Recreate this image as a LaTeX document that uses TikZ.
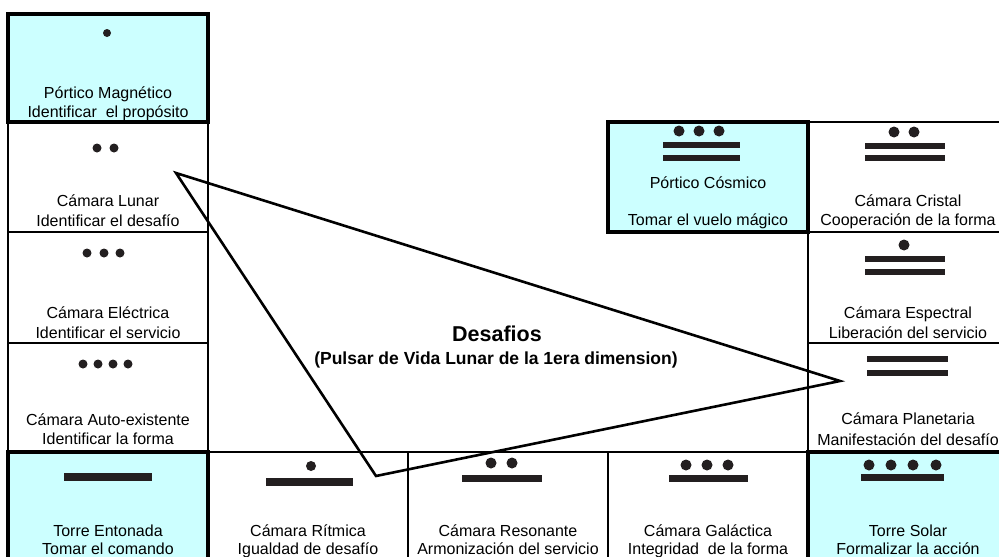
\documentclass[tikz,border=0pt]{standalone}
\usepackage{fontspec}
\setmainfont{Liberation Sans}
\usepackage{tikz}
\usetikzlibrary{calc}
\definecolor{gatecyan}{HTML}{CCFFFF}
\definecolor{ink}{HTML}{231F20}

\begin{document}
\begin{tikzpicture}[x=1pt,y=-1pt,every node/.style={font=\fontsize{16}{19}\selectfont}]
  \tikzstyle{cell}=[draw,line width=2pt,inner sep=0pt,outer sep=0pt,minimum width=200pt];
  \tikzstyle{gate}=[cell,fill=gatecyan,line width=4.5pt];
  \tikzstyle{txt}=[inner sep=0pt,anchor=base];
  \tikzstyle{ttl}=[txt,font=\bfseries\fontsize{21.5}{24}\selectfont];
  \tikzstyle{subttl}=[txt,font=\bfseries\fontsize{17.5}{20}\selectfont];
  \tikzstyle{glyph}=[fill=ink,draw=none];
  \useasboundingbox (0,0) rectangle (999,557);
  % thin cells
  \node[cell,minimum height=110pt] (lunar)      at (108,177)   {};
  \node[cell,minimum height=111pt] (electrica)  at (108,287.5) {};
  \node[cell,minimum height=109pt] (auto)       at (108,397.5) {};
  \node[cell,minimum height=110pt] (ritmica)    at (308,507)   {};
  \node[cell,minimum height=110pt] (resonante)  at (508,507)   {};
  \node[cell,minimum height=110pt] (galactica)  at (708,507)   {};
  \node[cell,minimum height=110pt] (cristal)    at (908,177)   {};
  \node[cell,minimum height=111pt] (espectral)  at (908,287.5) {};
  \node[cell,minimum height=109pt] (planetaria) at (908,397.5) {};
  % portals and towers
  \node[gate,minimum height=108pt] (magnetico)  at (108,68)    {};
  \node[gate,minimum height=110pt] (entonada)   at (108,507)   {};
  \node[gate,minimum height=110pt] (solar)      at (908,507)   {};
  \node[gate,minimum height=110pt] (cosmico)    at (708,177)   {};

  % labels
  \node[txt] (magnetico-a)  at (108,98)  {Pórtico Magnético};
  \node[txt] (magnetico-b)  at (108,117) {Identificar\ \ el propósito};
  \node[txt] (lunar-a)      at (108,206) {Cámara Lunar};
  \node[txt] (lunar-b)      at (108,226) {Identificar el desafío};
  \node[txt] (electrica-a)  at (108,318) {Cámara Eléctrica};
  \node[txt] (electrica-b)  at (108,338) {Identificar el servicio};
  \node[txt] (auto-a)       at (108,425) {Cámara Auto-existente};
  \node[txt] (auto-b)       at (108,444) {Identificar la forma};
  \node[txt] (entonada-a)   at (108,536) {Torre Entonada};
  \node[txt] (entonada-b)   at (108,554) {Tomar el comando};
  \node[txt] (ritmica-a)    at (308,536) {Cámara Rítmica};
  \node[txt] (ritmica-b)    at (308,554) {Igualdad de desafío};
  \node[txt] (resonante-a)  at (508,536) {Cámara Resonante};
  \node[txt] (resonante-b)  at (508,554) {Armonización del servicio};
  \node[txt] (galactica-a)  at (708,536) {Cámara Galáctica};
  \node[txt] (galactica-b)  at (708,554) {Integridad\ \ de la forma};
  \node[txt] (solar-a)      at (908,536) {Torre Solar};
  \node[txt] (solar-b)      at (908,554) {Formalizar la acción};
  \node[txt] (cosmico-a)    at (708,188) {Pórtico Cósmico};
  \node[txt] (cosmico-b)    at (708,225) {Tomar el vuelo mágico};
  \node[txt] (cristal-a)    at (908,206) {Cámara Cristal};
  \node[txt] (cristal-b)    at (908,225) {Cooperación de la forma};
  \node[txt] (espectral-a)  at (908,318) {Cámara Espectral};
  \node[txt] (espectral-b)  at (908,338) {Liberación del servicio};
  \node[txt] (planetaria-a) at (908,424) {Cámara Planetaria};
  \node[txt] (planetaria-b) at (908,445) {Manifestación del desafío};

  % numbers: dots and bars
  \fill[glyph] (107,33) circle (4pt);
  \foreach \x in {97,114} \fill[glyph] (\x,148) circle (4.5pt);
  \foreach \x in {87,104,120} \fill[glyph] (\x,253) circle (4.5pt);
  \foreach \x in {83,98,113,128} \fill[glyph] (\x,364) circle (4.5pt);
  \fill[glyph] (64,473) rectangle (152,481);
  \fill[glyph] (311,466) circle (5pt);
  \fill[glyph] (266,478) rectangle (353,486);
  \foreach \x in {491,512} \fill[glyph] (\x,463) circle (5.5pt);
  \fill[glyph] (462,474.5) rectangle (542,481.5);
  \foreach \x in {686,707,728} \fill[glyph] (\x,465) circle (5.5pt);
  \fill[glyph] (669,474.5) rectangle (748,481.5);
  \foreach \x in {869,891,913,936} \fill[glyph] (\x,465) circle (5.5pt);
  \fill[glyph] (861,474) rectangle (944,481);
  \foreach \x in {679,699,719} \fill[glyph] (\x,131) circle (5.5pt);
  \foreach \y in {142,155} \fill[glyph] (663,\y) rectangle (740,\y+6);
  \foreach \x in {894,914} \fill[glyph] (\x,132) circle (5.5pt);
  \foreach \y in {143,155} \fill[glyph] (865,\y) rectangle (945,\y+6);
  \fill[glyph] (904,245) circle (5.5pt);
  \foreach \y in {256,269} \fill[glyph] (865,\y) rectangle (945,\y+6);
  \foreach \y in {356,370} \fill[glyph] (867,\y) rectangle (948,\y+6);

  % centre
  \node[ttl]    (desafios) at (497,341) {Desafios};
  \node[subttl] (pulsar)   at (496,364) {(Pulsar de Vida Lunar de la 1era dimension)};
  \coordinate (va) at (176,173);
  \coordinate (vb) at (840,381);
  \coordinate (vc) at (376,476);
  \draw[line width=2.6pt] (va) -- (vb) -- (vc) -- cycle;
\end{tikzpicture}
\end{document}
